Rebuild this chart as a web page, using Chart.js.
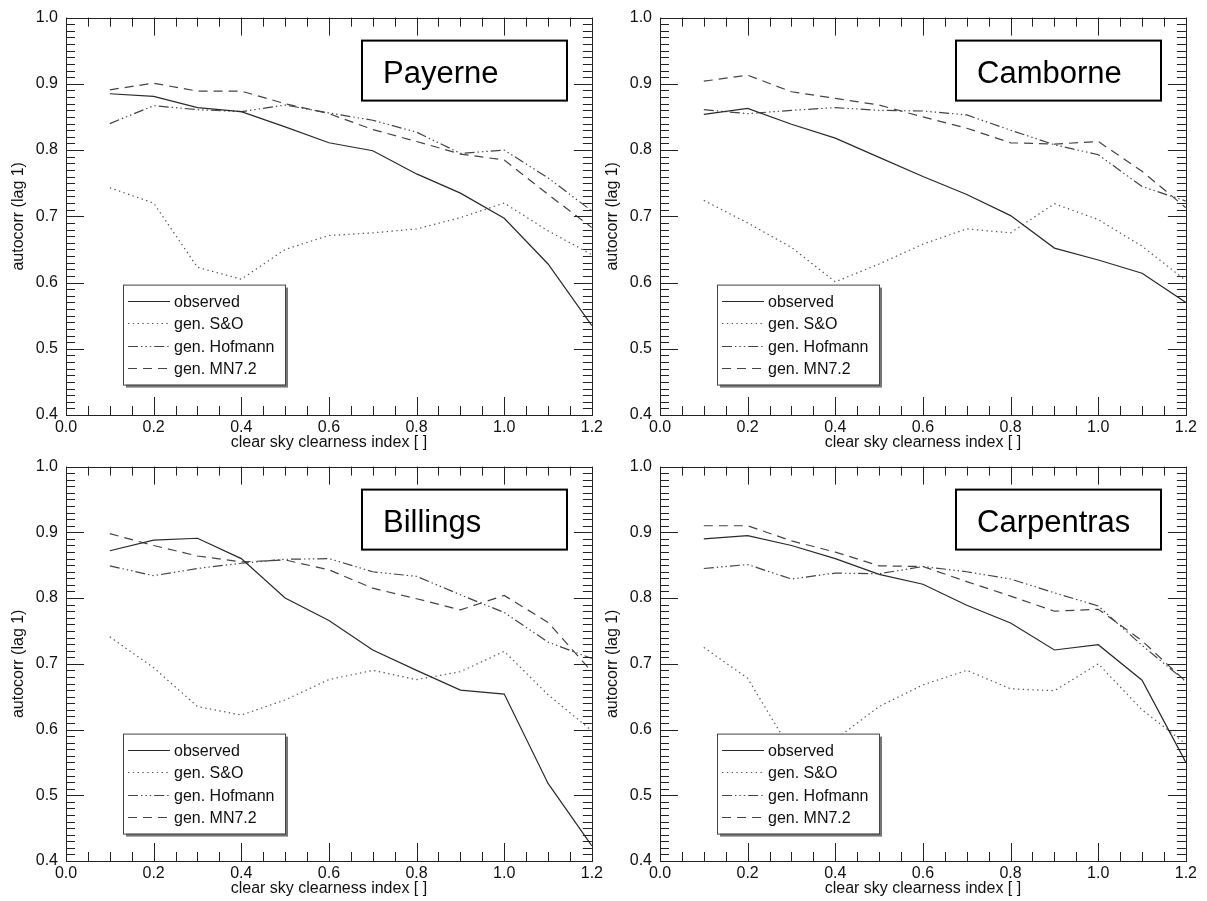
<!DOCTYPE html>
<html>
<head>
<meta charset="utf-8">
<title>autocorr (lag 1) vs clear sky clearness index</title>
<script src="https://cdn.jsdelivr.net/npm/chart.js@4.4.1/dist/chart.umd.min.js"></script>
<style>
    body { margin: 0; background: #fff; }
    #page { position: relative; width: 1207px; height: 901px; overflow: hidden; background: #fff; }
    #page canvas { position: absolute; }
</style>
</head>
<body>
<div id="page">
    <canvas id="payerneChart" width="606" height="452" style="left:0px;top:0px"></canvas>
    <canvas id="camborneChart" width="606" height="452" style="left:594px;top:0px"></canvas>
    <canvas id="billingsChart" width="606" height="452" style="left:0px;top:449px"></canvas>
    <canvas id="carpentrasChart" width="606" height="452" style="left:594px;top:449px"></canvas>
</div>
<script>
// ===== Data =====
const clearness = [0.1, 0.2, 0.3, 0.4, 0.5, 0.6, 0.7, 0.8, 0.9, 1.0, 1.1, 1.2];
const seriesNames = ['observed', 'gen. S&O', 'gen. Hofmann', 'gen. MN7.2'];
const xTickLabels = ['0.0', '0.2', '0.4', '0.6', '0.8', '1.0', '1.2'];
const yTickLabels = ['0.4', '0.5', '0.6', '0.7', '0.8', '0.9', '1.0'];

const payerneObserved = [0.885, 0.881, 0.864, 0.858, 0.835, 0.811, 0.799, 0.764, 0.735, 0.697, 0.628, 0.535];
const payerneSO       = [0.743, 0.720, 0.623, 0.605, 0.650, 0.671, 0.675, 0.681, 0.698, 0.720, 0.678, 0.642];
const payerneHofmann  = [0.840, 0.867, 0.861, 0.858, 0.868, 0.856, 0.845, 0.827, 0.795, 0.800, 0.758, 0.708];
const payerneMN72     = [0.891, 0.901, 0.889, 0.889, 0.870, 0.855, 0.831, 0.813, 0.794, 0.785, 0.733, 0.683];

const camborneObserved = [0.854, 0.863, 0.839, 0.818, 0.789, 0.760, 0.733, 0.701, 0.652, 0.634, 0.614, 0.570];
const camborneSO       = [0.724, 0.690, 0.653, 0.601, 0.628, 0.658, 0.681, 0.675, 0.719, 0.695, 0.655, 0.603];
const camborneHofmann  = [0.861, 0.855, 0.860, 0.864, 0.860, 0.859, 0.853, 0.830, 0.808, 0.793, 0.745, 0.723];
const camborneMN72     = [0.904, 0.913, 0.888, 0.878, 0.868, 0.850, 0.833, 0.811, 0.809, 0.813, 0.768, 0.713];

const billingsObserved = [0.872, 0.888, 0.891, 0.860, 0.800, 0.766, 0.721, 0.690, 0.660, 0.654, 0.518, 0.423];
const billingsSO       = [0.741, 0.694, 0.635, 0.622, 0.645, 0.676, 0.690, 0.676, 0.688, 0.719, 0.653, 0.598];
const billingsHofmann  = [0.849, 0.834, 0.845, 0.853, 0.859, 0.860, 0.840, 0.833, 0.805, 0.778, 0.733, 0.708];
const billingsMN72     = [0.898, 0.880, 0.864, 0.855, 0.858, 0.843, 0.815, 0.799, 0.782, 0.804, 0.763, 0.688];

const carpentrasObserved = [0.890, 0.895, 0.880, 0.860, 0.836, 0.821, 0.789, 0.762, 0.721, 0.729, 0.675, 0.550];
const carpentrasSO       = [0.725, 0.678, 0.567, 0.585, 0.635, 0.668, 0.690, 0.662, 0.659, 0.700, 0.630, 0.578];
const carpentrasHofmann  = [0.845, 0.851, 0.829, 0.838, 0.837, 0.848, 0.840, 0.829, 0.808, 0.788, 0.728, 0.673];
const carpentrasMN72     = [0.910, 0.910, 0.887, 0.870, 0.849, 0.848, 0.825, 0.803, 0.780, 0.783, 0.735, 0.673];

// ===== Look =====
const FONT = '"Liberation Sans", Arial, Helvetica, sans-serif';
const lineStyles = [
    { color: '#2a2a2a', dash: [] },
    { color: '#555555', dash: [1.4, 3.4] },
    { color: '#444444', dash: [10, 3, 1.4, 3, 1.4, 3, 1.4, 3] },
    { color: '#444444', dash: [9, 6] }
];

const panels = [
    { canvas: 'payerneChart', station: 'Payerne', series: [payerneObserved, payerneSO, payerneHofmann, payerneMN72], padTop: 14, xAxisHeight: 37, titlePad: 0 },
    { canvas: 'camborneChart', station: 'Camborne', series: [camborneObserved, camborneSO, camborneHofmann, camborneMN72], padTop: 14, xAxisHeight: 37, titlePad: 0 },
    { canvas: 'billingsChart', station: 'Billings', series: [billingsObserved, billingsSO, billingsHofmann, billingsMN72], padTop: 13, xAxisHeight: 40, titlePad: 2.4 },
    { canvas: 'carpentrasChart', station: 'Carpentras', series: [carpentrasObserved, carpentrasSO, carpentrasHofmann, carpentrasMN72], padTop: 13, xAxisHeight: 40, titlePad: 2.4 }
];

// ===== Frame, inward ticks, station box and legend =====
const idlFrame = {
    id: 'idlFrame',
    afterDatasetsDraw(chart, args, opts) {
        const { ctx, chartArea: area } = chart;
        const xs = chart.scales.x;
        const ys = chart.scales.y;
        ctx.save();

        // ticks on all four sides, pointing inward
        ctx.strokeStyle = '#222';
        ctx.lineWidth = 1;
        ctx.beginPath();
        for (let i = 0; i <= 24; i++) {
            const px = Math.round(xs.getPixelForValue(i * 0.05)) + 0.5;
            const len = i % 4 === 0 ? 18 : 9;
            ctx.moveTo(px, area.bottom);
            ctx.lineTo(px, area.bottom - len);
            ctx.moveTo(px, area.top);
            ctx.lineTo(px, area.top + len);
        }
        for (let i = 0; i <= 60; i++) {
            const py = Math.round(ys.getPixelForValue(0.4 + i * 0.01)) + 0.5;
            const len = i % 10 === 0 ? 18 : 9;
            ctx.moveTo(area.left, py);
            ctx.lineTo(area.left + len, py);
            ctx.moveTo(area.right, py);
            ctx.lineTo(area.right - len, py);
        }
        ctx.stroke();
        ctx.strokeRect(Math.round(area.left) + 0.5, Math.round(area.top) + 0.5,
            Math.round(area.width), Math.round(area.height));

        // station name box
        const bx = area.left + 296;
        const by = area.top + 23;
        ctx.fillStyle = '#fff';
        ctx.fillRect(bx, by, 205, 60);
        ctx.lineWidth = 2;
        ctx.strokeStyle = '#000';
        ctx.strokeRect(bx, by, 205, 60);
        ctx.fillStyle = '#000';
        ctx.font = '31px ' + FONT;
        ctx.textBaseline = 'alphabetic';
        ctx.textAlign = 'left';
        ctx.fillText(opts.station, bx + 21, by + 42);

        // legend with shadow
        const lx = area.left + 57;
        const ly = area.top + 267;
        const lw = 162, lh = 100;
        ctx.fillStyle = '#777';
        ctx.fillRect(lx + 3, ly + 3, lw, lh);
        ctx.fillStyle = '#fff';
        ctx.fillRect(lx, ly, lw, lh);
        ctx.lineWidth = 1;
        ctx.strokeStyle = '#444';
        ctx.strokeRect(lx + 0.5, ly + 0.5, lw, lh);

        ctx.font = '16px ' + FONT;
        ctx.textBaseline = 'middle';
        chart.data.datasets.forEach((ds, i) => {
            const rowY = Math.round(ly + 16 + i * 22.5) + 0.5;
            ctx.beginPath();
            ctx.setLineDash(ds.borderDash);
            ctx.strokeStyle = ds.borderColor;
            ctx.lineWidth = ds.borderWidth;
            ctx.moveTo(lx + 5, rowY);
            ctx.lineTo(lx + 47, rowY);
            ctx.stroke();
            ctx.setLineDash([]);
            ctx.fillStyle = '#111';
            ctx.fillText(ds.label, lx + 51, rowY + 1);
        });
        ctx.restore();
    }
};

// ===== Build charts =====
function buildDatasets(series) {
    return series.map((values, i) => ({
        label: seriesNames[i],
        data: clearness.map((cx, j) => ({ x: cx, y: values[j] })),
        borderColor: lineStyles[i].color,
        borderDash: lineStyles[i].dash,
        borderWidth: 1.2,
        pointRadius: 0,
        tension: 0,
        fill: false
    }));
}

function createPanel(panel) {
    const ctx = document.getElementById(panel.canvas).getContext('2d');
    return new Chart(ctx, {
        type: 'line',
        data: { datasets: buildDatasets(panel.series) },
        plugins: [idlFrame],
        options: {
            responsive: false,
            animation: false,
            devicePixelRatio: 1,
            layout: { padding: { top: panel.padTop, right: 14, bottom: 0, left: 0 } },
            plugins: {
                legend: { display: false },
                tooltip: { enabled: false },
                idlFrame: { station: panel.station }
            },
            scales: {
                x: {
                    type: 'linear',
                    min: 0,
                    max: 1.2,
                    afterFit: function(scale) { scale.height = panel.xAxisHeight; },
                    grid: { display: false, drawTicks: false },
                    border: { display: false },
                    ticks: {
                        stepSize: 0.2,
                        padding: 3,
                        color: '#111',
                        font: { family: FONT, size: 16 },
                        maxRotation: 0,
                        callback: function(value) {
                            return xTickLabels[Math.round(value / 0.2)];
                        }
                    },
                    title: {
                        display: true,
                        text: 'clear sky clearness index [ ]',
                        color: '#111',
                        font: { family: FONT, size: 16 },
                        padding: { top: 0, bottom: panel.titlePad }
                    }
                },
                y: {
                    type: 'linear',
                    min: 0.4,
                    max: 1.0,
                    afterFit: function(scale) { scale.width = 66; },
                    grid: { display: false, drawTicks: false },
                    border: { display: false },
                    ticks: {
                        stepSize: 0.1,
                        padding: 8,
                        color: '#111',
                        font: { family: FONT, size: 16 },
                        callback: function(value) {
                            return yTickLabels[Math.round((value - 0.4) / 0.1)];
                        }
                    },
                    title: {
                        display: true,
                        text: 'autocorr (lag 1)',
                        color: '#111',
                        font: { family: FONT, size: 16 },
                        padding: { top: 9.4, bottom: 0 }
                    }
                }
            }
        }
    });
}

document.addEventListener('DOMContentLoaded', function() {
    panels.forEach(createPanel);
});
</script>
</body>
</html>
